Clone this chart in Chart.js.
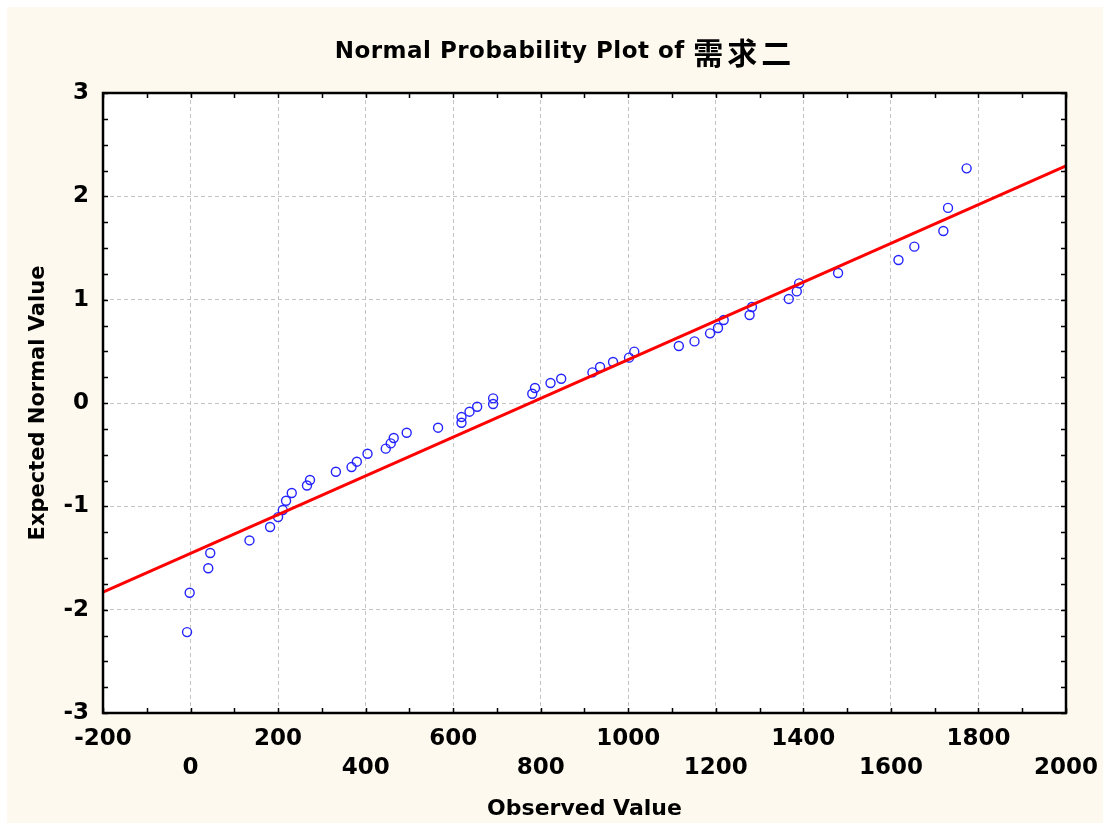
<!DOCTYPE html>
<html><head><meta charset="utf-8">
<script src="https://cdn.jsdelivr.net/npm/chart.js@4/dist/chart.umd.min.js"></script>
<style>html,body{margin:0;padding:0;background:#fff;}#wrap{position:absolute;left:0;top:0;width:1110px;height:832px;}</style>
</head><body><div id="wrap"><canvas id="c" width="1110" height="832"></canvas></div>
<script>
// ---- data ----
const titleLatin = 'Normal Probability Plot of';
const titleCJK = '需求二';
const xTitle = 'Observed Value';
const yTitle = 'Expected Normal Value';

const observed = [-8, -2, 40.5, 45, 134.6, 181.7, 200, 210.7, 218.2, 231.2,
  266, 272.9, 332, 367.8, 379.9, 404.3, 446, 457.3, 464.2, 493.8,
  565.5, 619, 619, 637.3, 654.8, 691.2, 691.2, 780.7, 786.9, 822.4,
  846.8, 918.1, 935.6, 965.2, 1001.7, 1013.7, 1115.5, 1151.3, 1186.8, 1205,
  1218, 1277.2, 1282.5, 1366.7, 1385, 1390.4, 1479.3, 1617.3, 1653.5, 1719.8,
  1730.5, 1773];
const expected = [-2.217, -1.836, -1.599, -1.452, -1.330, -1.200, -1.104, -1.036, -0.946, -0.871,
  -0.798, -0.745, -0.665, -0.620, -0.568, -0.491, -0.442, -0.391, -0.339, -0.288,
  -0.239, -0.191, -0.136, -0.084, -0.036, -0.010, 0.045, 0.090, 0.145, 0.194,
  0.235, 0.296, 0.348, 0.397, 0.439, 0.497, 0.552, 0.596, 0.674, 0.726,
  0.803, 0.852, 0.929, 1.007, 1.080, 1.158, 1.258, 1.384, 1.513, 1.665,
  1.888, 2.271];
const fitX = [-200, 2000];
const fitY = [-1.83, 2.294];
const xTickValues = [-200, 0, 200, 400, 600, 800, 1000, 1200, 1400, 1600, 1800, 2000];
const yTickValues = [-3, -2, -1, 0, 1, 2, 3];

// ---- chart ----
const FONT = "'DejaVu Sans', Verdana, sans-serif";
const X_MINOR = 100, Y_MINOR = 0.25;

const decor = {
  id: 'decor',
  beforeDraw(chart) {
    const {ctx, chartArea: a} = chart;
    ctx.save();
    ctx.fillStyle = '#ffffff'; ctx.fillRect(0, 0, chart.width, chart.height);
    ctx.fillStyle = '#FDF9EE'; ctx.fillRect(7, 7, chart.width - 14, chart.height - 16);
    ctx.fillStyle = '#ffffff'; ctx.fillRect(a.left, a.top, a.right - a.left, a.bottom - a.top);
    ctx.restore();
  },
  afterDraw(chart) {
    const {ctx, chartArea: a, scales: {x, y}} = chart;
    ctx.save();
    ctx.strokeStyle = '#000'; ctx.lineWidth = 1.5;
    ctx.beginPath();
    for (let v = x.min; v <= x.max + 1e-9; v += X_MINOR) {
      const p = Math.round(x.getPixelForValue(v)) + 0.5;
      ctx.moveTo(p, a.bottom); ctx.lineTo(p, a.bottom - 5);
      ctx.moveTo(p, a.top); ctx.lineTo(p, a.top + 5);
    }
    for (let v = y.min; v <= y.max + 1e-9; v += Y_MINOR) {
      const p = Math.round(y.getPixelForValue(v)) + 0.5;
      ctx.moveTo(a.left, p); ctx.lineTo(a.left + 5, p);
      ctx.moveTo(a.right, p); ctx.lineTo(a.right - 5, p);
    }
    ctx.stroke();
    ctx.lineWidth = 2.5;
    ctx.strokeRect(a.left, a.top, a.right - a.left, a.bottom - a.top);
    // title
    ctx.fillStyle = '#000';
    ctx.textBaseline = 'middle';
    ctx.textAlign = 'left';
    const latinFont = "bold 23px " + FONT, cjkFont = "bold 30px 'Noto Sans CJK SC', sans-serif";
    ctx.font = latinFont; ctx.letterSpacing = '0.5px';
    const w1 = ctx.measureText(titleLatin + ' ').width;
    ctx.font = cjkFont; ctx.letterSpacing = '4px';
    const w2 = ctx.measureText(titleCJK).width - 4;
    const x0 = 563 - (w1 + w2) / 2;
    ctx.font = latinFont; ctx.letterSpacing = '0.5px';
    ctx.fillText(titleLatin + ' ', x0, 52);
    ctx.font = cjkFont; ctx.letterSpacing = '4px';
    ctx.fillText(titleCJK, x0 + w1, 53);
    ctx.letterSpacing = '0px';
    ctx.restore();
  }
};

new Chart(document.getElementById('c'), {
  type: 'scatter',
  data: {
    datasets: [
      {
        type: 'line',
        data: fitX.map((v, i) => ({x: v, y: fitY[i]})),
        borderColor: '#FF0000', borderWidth: 3, pointRadius: 0, fill: false, tension: 0
      },
      {
        data: observed.map((v, i) => ({x: v, y: expected[i]})),
        pointStyle: 'circle', pointRadius: 4.5, borderWidth: 1.4,
        borderColor: '#2424FF', backgroundColor: 'rgba(0,0,0,0)'
      }
    ]
  },
  options: {
    responsive: false, animation: false, devicePixelRatio: 1,
    layout: {padding: {top: 93, left: 0, right: 43, bottom: 0}},
    plugins: {legend: {display: false}, tooltip: {enabled: false}, title: {display: false}},
    scales: {
      x: {
        type: 'linear', min: -200, max: 2000,
        afterBuildTicks: s => { s.ticks = xTickValues.map(v => ({value: v})); },
        afterFit: s => { s.height = 119; },
        ticks: {
          autoSkip: false, maxRotation: 0, padding: 12, color: '#000',
          font: {family: FONT, weight: 'bold', size: 23, lineHeight: 1.25},
          callback: (v, i) => (i % 2 === 0 ? [String(v), ''] : ['', String(v)])
        },
        grid: {color: '#C4C4C4', lineWidth: 1, drawTicks: false},
        border: {display: false, dash: [4, 3]},
        title: {display: true, text: xTitle, color: '#000', padding: {top: 0, bottom: 10},
          font: {family: FONT, weight: 'bold', size: 22, lineHeight: 1.2}}
      },
      y: {
        type: 'linear', min: -3, max: 3,
        afterBuildTicks: s => { s.ticks = yTickValues.map(v => ({value: v})); },
        afterFit: s => { s.width = 103; },
        ticks: {padding: 14, color: '#000', font: {family: FONT, weight: 'bold', size: 23}},
        grid: {color: '#C4C4C4', lineWidth: 1, drawTicks: false},
        border: {display: false, dash: [4, 3]},
        title: {display: true, text: yTitle, color: '#000', padding: {top: 26, bottom: 0},
          font: {family: FONT, weight: 'bold', size: 21, lineHeight: 1.2}}
      }
    }
  },
  plugins: [decor]
});
</script></body></html>
